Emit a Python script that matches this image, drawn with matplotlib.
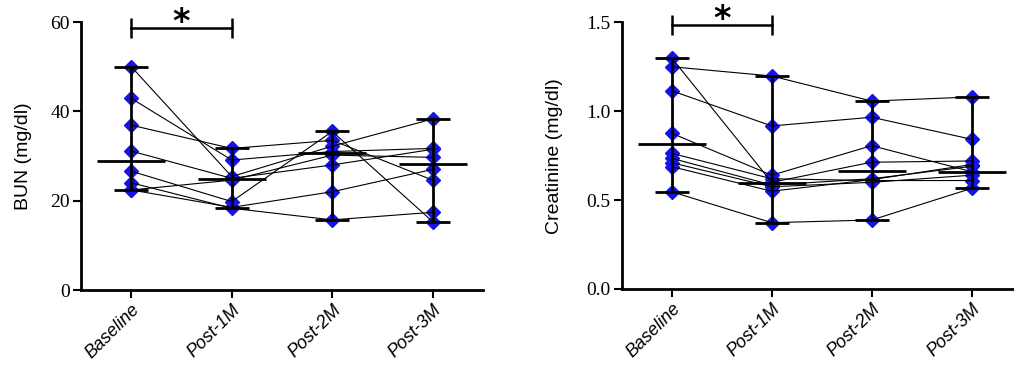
import numpy as np
import matplotlib.pyplot as plt

# time points
groups = ["Baseline", "Post-1M", "Post-2M", "Post-3M"]

# BUN (mg/dl), one entry per patient
bun_baseline = [50.0, 42.9, 36.9, 31.1, 26.6, 24.0, 22.4, 22.4]
bun_post1m = [25.4, 29.1, 31.7, 25.0, 19.8, 18.3, 24.6, 18.5]
bun_post2m = [32.2, 31.0, 33.5, 28.0, 35.5, 15.7, 30.2, 22.0]
bun_post3m = [38.3, 31.7, 24.6, 31.5, 15.3, 17.4, 29.7, 27.0]
bun_center = [28.9, 24.8, 30.6, 28.2]

# Creatinine (mg/dl), one entry per patient
crea_baseline = [1.30, 1.25, 1.115, 0.876, 0.763, 0.735, 0.71, 0.688, 0.547]
crea_post1m = [0.60, 1.198, 0.917, 0.64, 0.62, 0.585, 0.575, 0.55, 0.373]
crea_post2m = [0.713, 1.057, 0.966, 0.806, 0.61, 0.62, 0.60, 0.615, 0.388]
crea_post3m = [0.72, 1.08, 0.842, 0.66, 0.61, 0.69, 0.64, 0.70, 0.566]
crea_center = [0.815, 0.598, 0.665, 0.66]

MARKER_COLOR = "#1414e6"


def draw_panel(ax, series, centers, ymax, yticks, ylabel, fmt, bracket_y):
    x = np.arange(len(groups))
    data = np.array(series).T  # rows = patients

    # patient markers
    for i in x:
        ax.plot([i] * len(data), data[:, i], ls="none", marker="D", ms=7.5,
                color=MARKER_COLOR, zorder=2)
    # patient lines
    for row in data:
        ax.plot(x, row, color="black", lw=0.8, zorder=3)

    # range whiskers + median line
    lo = data.min(axis=0)
    hi = data.max(axis=0)
    ax.vlines(x, lo, hi, color="black", lw=2, zorder=4)
    ax.hlines(lo, x - 0.17, x + 0.17, color="black", lw=2, zorder=4)
    ax.hlines(hi, x - 0.17, x + 0.17, color="black", lw=2, zorder=4)
    ax.hlines(centers, x - 0.34, x + 0.34, color="black", lw=2, zorder=4)

    # significance bracket
    ax.plot([0, 1], [bracket_y, bracket_y], color="black", lw=1.8,
            marker="|", ms=14, mew=1.8, clip_on=False)
    ax.annotate("*", xy=(0.5, bracket_y), xytext=(0, -3), textcoords="offset points",
                ha="center", va="baseline", fontsize=24, fontweight="bold",
                annotation_clip=False)

    ax.set_xlim(-0.5, 3.5)
    ax.set_ylim(0, ymax)
    ax.set_yticks(yticks)
    ax.set_yticklabels([fmt.format(v) for v in yticks],
                       fontfamily="Liberation Serif", fontsize=14)
    ax.set_xticks(x)
    ax.set_xticklabels(groups, rotation=45, ha="right", rotation_mode="anchor",
                       fontfamily="Liberation Sans", fontstyle="italic", fontsize=13)
    ax.set_ylabel(ylabel, fontfamily="Liberation Sans", fontsize=14)

    for side in ["top", "right"]:
        ax.spines[side].set_visible(False)
    for side in ["left", "bottom"]:
        ax.spines[side].set_linewidth(2)
    ax.tick_params(direction="out", length=6, width=1.5, pad=2)


def main():
    fig = plt.figure(figsize=(10.14, 3.82), dpi=100)
    ax1 = fig.add_axes([0.0799, 0.2408, 0.3964, 0.7016])
    ax2 = fig.add_axes([0.6131, 0.2435, 0.3945, 0.6981])

    draw_panel(ax1, [bun_baseline, bun_post1m, bun_post2m, bun_post3m], bun_center,
               60, [0, 20, 40, 60], "BUN (mg/dl)", "{:.0f}", 58.7)
    draw_panel(ax2, [crea_baseline, crea_post1m, crea_post2m, crea_post3m], crea_center,
               1.5, [0, 0.5, 1.0, 1.5], "Creatinine (mg/dl)", "{:.1f}", 1.485)

    ax1.yaxis.set_label_coords(-0.122, 0.5)
    ax2.yaxis.set_label_coords(-0.147, 0.5)

    fig.savefig("out.png", dpi=100)


if __name__ == "__main__":
    main()
